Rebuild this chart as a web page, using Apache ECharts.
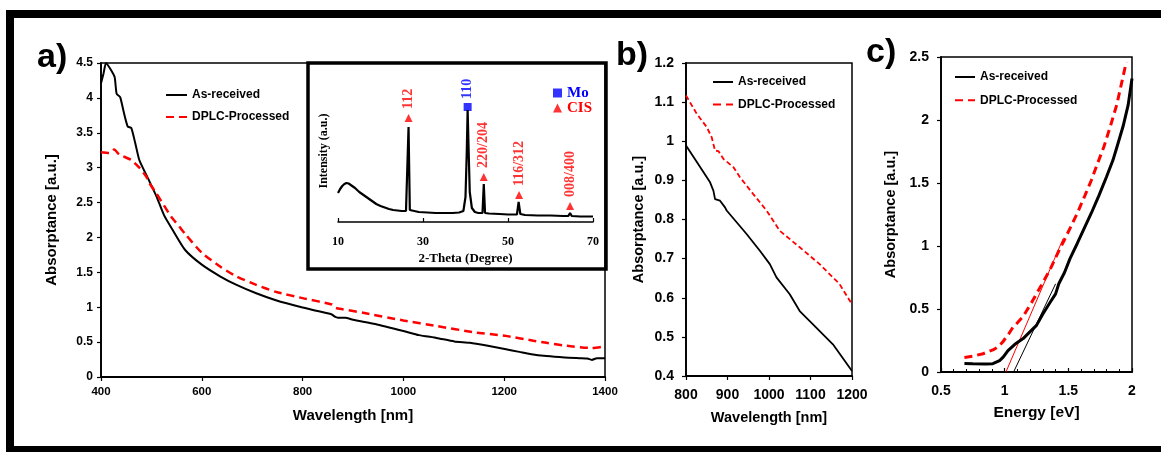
<!DOCTYPE html>
<html>
<head>
<meta charset="utf-8">
<script src="https://cdn.jsdelivr.net/npm/echarts@6/dist/echarts.min.js"></script>
<style>
html,body{margin:0;padding:0;background:#fff;}
#chart{width:1161px;height:452px;}
</style>
</head>
<body>
<div id="chart"></div>
<script>
// ---------- DATA ----------
// Panel a: absorptance vs wavelength [nm]
const aAsReceived = [[400,4.21],[405,4.35],[410,4.50],[418,4.42],[427,4.30],[431,4.06],[438,4.01],[445,3.80],[453,3.59],[460,3.57],[468,3.35],[476,3.11],[493,2.85],[510,2.59],[525,2.32],[542,2.11],[567,1.82],[600,1.61],[637,1.44],[669,1.32],[708,1.20],[747,1.10],[800,0.995],[827,0.95],[857,0.90],[865,0.86],[870,0.85],[885,0.85],[900,0.82],[944,0.76],[1000,0.66],[1031,0.60],[1066,0.56],[1101,0.51],[1132,0.49],[1165,0.45],[1201,0.40],[1230,0.36],[1251,0.33],[1284,0.30],[1320,0.28],[1350,0.27],[1365,0.265],[1374,0.245],[1384,0.27],[1400,0.27]];
const aDPLC = [[400,3.22],[416,3.21],[426,3.26],[436,3.19],[460,3.11],[476,3.00],[490,2.87],[496,2.78],[510,2.63],[539,2.30],[556,2.15],[567,2.05],[600,1.78],[637,1.58],[669,1.44],[708,1.32],[747,1.22],[800,1.13],[858,1.04],[866,0.99],[880,0.97],[920,0.92],[1000,0.81],[1066,0.73],[1141,0.64],[1201,0.59],[1258,0.52],[1284,0.49],[1321,0.45],[1374,0.415],[1400,0.44]];
// Panel b: zoom 800-1200 nm
const bAsReceived = [[800,0.989],[834,0.934],[858,0.895],[866,0.874],[870,0.852],[882,0.848],[894,0.831],[898,0.823],[922,0.793],[946,0.763],[978,0.720],[1002,0.686],[1018,0.652],[1050,0.609],[1074,0.566],[1106,0.532],[1154,0.481],[1200,0.413]];
const bDPLC = [[800,1.117],[826,1.070],[850,1.036],[862,1.010],[870,0.976],[878,0.975],[890,0.955],[914,0.934],[930,0.908],[962,0.865],[994,0.823],[1026,0.771],[1074,0.729],[1122,0.686],[1170,0.635],[1200,0.583]];
// Panel c: absorptance vs energy [eV]
const cAsReceived = [[0.684,0.067],[0.75,0.065],[0.85,0.064],[0.907,0.066],[0.96,0.09],[0.99,0.12],[1.026,0.17],[1.08,0.22],[1.145,0.265],[1.20,0.32],[1.25,0.37],[1.30,0.46],[1.355,0.55],[1.40,0.62],[1.425,0.70],[1.44,0.71],[1.47,0.79],[1.513,0.90],[1.57,1.02],[1.62,1.13],[1.68,1.26],[1.74,1.40],[1.80,1.55],[1.85,1.68],[1.88,1.78],[1.93,1.95],[1.97,2.12],[2.0,2.33]];
const cDPLC = [[0.684,0.115],[0.75,0.125],[0.83,0.145],[0.907,0.175],[0.95,0.20],[0.986,0.24],[1.03,0.30],[1.065,0.355],[1.10,0.39],[1.145,0.44],[1.21,0.55],[1.25,0.62],[1.30,0.71],[1.355,0.81],[1.42,0.95],[1.47,1.05],[1.513,1.14],[1.57,1.26],[1.63,1.40],[1.68,1.52],[1.72,1.63],[1.78,1.79],[1.83,1.95],[1.88,2.12],[1.92,2.30],[1.955,2.46]];
const cTangentDPLC = [[1.01,0],[1.46,1.06]];
const cTangentAsReceived = [[1.07,0],[1.40,0.70]];
// Inset: XRD pattern, 2-theta [deg] vs intensity [a.u.]
const xrdPattern = [[10,29],[10.5,33],[11,36],[11.5,38],[12,39],[12.5,38.5],[13,37],[14,34],[15,30],[16,27],[17,24],[18,21],[19,18],[20,16],[21,14.5],[22,13],[23,12],[24,11.5],[25,11],[26,11],[26.3,12],[26.6,95],[26.9,12],[27.3,10.5],[29,10],[31,9.5],[33,9],[35,9],[37,9],[38.5,9.5],[39.5,11],[40.0,25],[40.3,70],[40.5,112],[40.75,70],[41.0,30],[41.5,14],[42.2,10],[43,9],[44.0,9],[44.3,38],[44.6,9],[45.5,8.5],[48,8],[50,7.5],[52.1,7.5],[52.5,20],[52.9,8],[54,7],[57,6.5],[60,6.5],[63,6],[64.2,6],[64.6,9],[65,6],[67,5.5],[70,5.5]];
const moPeaks = [[40.5,115,'110']];
const cisPeaks = [[26.6,104,'112'],[44.3,45,'220/204'],[52.6,27,'116/312'],[64.6,16,'008/400']];
const xrdTicks = [10,30,50,70];
const seriesNames = ['As-received','DPLC-Processed'];

// ---------- STYLE ----------
const SANS = 'Liberation Sans';
const SERIF = 'Liberation Serif';
const RED = '#ff0000', BLUE = '#0000ff';
const plain = v => String(v);

function tickLabel(size, margin){ return {color:'#000', fontFamily:SANS, fontWeight:'bold', fontSize:size, margin:margin, formatter:plain}; }
function nameStyle(size){ return {color:'#000', fontFamily:SANS, fontWeight:'bold', fontSize:size}; }
const axLine = {show:true, lineStyle:{color:'#000', width:1.8}};
const axTick = {show:true, length:4, lineStyle:{color:'#000', width:1.2}};

function legendFor(left, top, gap, width){
  return {
    orient:'vertical', left:left, top:top, padding:0, itemGap:gap, itemWidth:width, itemHeight:14,
    data:seriesNames, selectedMode:false, itemStyle:{opacity:0},
    textStyle:{color:'#000', fontFamily:SANS, fontWeight:'bold', fontSize:12, lineHeight:14}
  };
}

const chart = echarts.init(document.getElementById('chart'), null, {renderer:'canvas'});
const option = {
  animation:false,
  backgroundColor:'#fff',
  graphic:[
    {type:'rect', shape:{x:6,y:10,width:1155,height:8}, style:{fill:'#000'}},
    {type:'rect', shape:{x:6,y:10,width:8,height:442}, style:{fill:'#000'}},
    {type:'rect', shape:{x:6,y:446,width:1155,height:6}, style:{fill:'#000'}},
    {type:'rect', z:10, shape:{x:308,y:63,width:298,height:206}, style:{fill:'none', stroke:'#000', lineWidth:3.5}},
    {type:'text', style:{text:'a)', x:37, y:58, fill:'#000', font:'bold 34px "Liberation Sans"', verticalAlign:'middle', textVerticalAlign:'middle'}},
    {type:'text', style:{text:'b)', x:616, y:56, fill:'#000', font:'bold 34px "Liberation Sans"', verticalAlign:'middle', textVerticalAlign:'middle'}},
    {type:'text', style:{text:'c)', x:866, y:53, fill:'#000', font:'bold 34px "Liberation Sans"', verticalAlign:'middle', textVerticalAlign:'middle'}}
  ],
  legend:[
    legendFor(165, 88, 8, 21),
    legendFor(712, 75, 8.6, 20),
    legendFor(954, 70, 9.3, 20),
    {
      orient:'vertical', left:553, top:85.5, padding:0, itemGap:0, itemWidth:9, itemHeight:9, selectedMode:false,
      data:[{name:'Mo', icon:'rect', textStyle:{color:BLUE}},{name:'CIS', icon:'triangle', textStyle:{color:RED}}],
      textStyle:{fontFamily:SERIF, fontWeight:'bold', fontSize:15, lineHeight:15}
    }
  ],
  grid:[
    {left:101, top:63, width:504, height:314, show:true, borderColor:'#000', borderWidth:1.5, backgroundColor:'transparent'},
    {left:338, top:80, width:255, height:142},
    {left:686, top:63, width:166, height:313, show:true, borderColor:'#000', borderWidth:1.5},
    {left:941, top:57, width:191, height:315, show:true, borderColor:'#000', borderWidth:1.5}
  ],
  xAxis:[
    {gridIndex:0, type:'value', min:400, max:1400, interval:200, axisLine:axLine, axisTick:axTick,
     axisLabel:tickLabel(11.5,9), splitLine:{show:false},
     name:'Wavelength [nm]', nameLocation:'middle', nameGap:31, nameTextStyle:nameStyle(15)},
    {gridIndex:1, type:'value', min:10, max:70, axisLine:{show:true, lineStyle:{color:'#000', width:1.5}},
     axisTick:{show:true, inside:true, length:4, customValues:xrdTicks, lineStyle:{color:'#000', width:1.2}},
     axisLabel:{customValues:xrdTicks, color:'#000', fontFamily:SERIF, fontWeight:'bold', fontSize:12, margin:14},
     splitLine:{show:false},
     name:'2-Theta (Degree)', nameLocation:'middle', nameGap:30,
     nameTextStyle:{color:'#000', fontFamily:SERIF, fontWeight:'bold', fontSize:13}},
    {gridIndex:2, type:'value', min:800, max:1200, interval:100, axisLine:axLine, axisTick:axTick,
     axisLabel:tickLabel(14,12), splitLine:{show:false},
     name:'Wavelength [nm]', nameLocation:'middle', nameGap:34, nameTextStyle:nameStyle(14.5)},
    {gridIndex:3, type:'value', min:0.5, max:2, interval:0.5, axisLine:axLine,
     axisTick:{show:true, inside:true, length:4, lineStyle:{color:'#000', width:1.2}},
     minorTick:{show:true, splitNumber:5, length:3, lineStyle:{color:'#000', width:1}},
     axisLabel:tickLabel(14,12), splitLine:{show:false},
     name:'Energy [eV]', nameLocation:'middle', nameGap:33, nameTextStyle:nameStyle(15.5)}
  ],
  yAxis:[
    {gridIndex:0, type:'value', min:0, max:4.5, interval:0.5, axisLine:axLine, axisTick:axTick,
     axisLabel:tickLabel(12,8), splitLine:{show:false},
     name:'Absorptance [a.u.]', nameLocation:'middle', nameGap:42, nameTextStyle:nameStyle(15)},
    {gridIndex:1, type:'value', min:0, max:142, axisLine:{show:false}, axisTick:{show:false},
     axisLabel:{show:false}, splitLine:{show:false},
     name:'Intensity (a.u.)', nameLocation:'middle', nameGap:8,
     nameTextStyle:{color:'#000', fontFamily:SERIF, fontWeight:'bold', fontSize:12}},
    {gridIndex:2, type:'value', min:0.4, max:1.2, interval:0.1, axisLine:axLine, axisTick:axTick,
     axisLabel:tickLabel(14,12), splitLine:{show:false},
     name:'Absorptance [a.u.]', nameLocation:'middle', nameGap:40, nameTextStyle:nameStyle(14.5)},
    {gridIndex:3, type:'value', min:0, max:2.5, interval:0.5, axisLine:axLine, axisTick:axTick,
     axisLabel:tickLabel(14,12), splitLine:{show:false},
     name:'Absorptance [a.u.]', nameLocation:'middle', nameGap:43, nameTextStyle:nameStyle(14.5)}
  ],
  series:[
    {name:seriesNames[0], type:'line', xAxisIndex:0, yAxisIndex:0, data:aAsReceived, symbol:'none', smooth:0.2,
     color:'#000', lineStyle:{color:'#000', width:2}},
    {name:seriesNames[1], type:'line', xAxisIndex:0, yAxisIndex:0, data:aDPLC, symbol:'none', smooth:0.2,
     color:RED, lineStyle:{color:RED, width:2.5, type:[8,5]}},
    {name:'XRD', type:'line', xAxisIndex:1, yAxisIndex:1, data:xrdPattern, symbol:'none',
     color:'#000', lineStyle:{color:'#000', width:2.2}},
    {name:'Mo', type:'scatter', xAxisIndex:1, yAxisIndex:1, symbol:'rect', symbolSize:8, color:BLUE,
     data:moPeaks.map(p=>({value:[p[0],p[1]], name:p[2]})),
     label:{show:true, formatter:'{b}', position:'top', distance:4, rotate:90, align:'left', verticalAlign:'middle',
            color:BLUE, fontFamily:SERIF, fontWeight:'bold', fontSize:14}},
    {name:'CIS', type:'scatter', xAxisIndex:1, yAxisIndex:1, symbol:'triangle', symbolSize:8, color:RED,
     data:cisPeaks.map(p=>({value:[p[0],p[1]], name:p[2]})),
     label:{show:true, formatter:'{b}', position:'top', distance:5, rotate:90, align:'left', verticalAlign:'middle',
            color:RED, fontFamily:SERIF, fontWeight:'bold', fontSize:14}},
    {name:seriesNames[0], type:'line', xAxisIndex:2, yAxisIndex:2, data:bAsReceived, symbol:'none',
     color:'#000', lineStyle:{color:'#000', width:1.8}},
    {name:seriesNames[1], type:'line', xAxisIndex:2, yAxisIndex:2, data:bDPLC, symbol:'none',
     color:RED, lineStyle:{color:RED, width:1.8, type:[5,3]}},
    {name:'Tangent DPLC', type:'line', xAxisIndex:3, yAxisIndex:3, data:cTangentDPLC, symbol:'none',
     lineStyle:{color:RED, width:1}},
    {name:'Tangent As-received', type:'line', xAxisIndex:3, yAxisIndex:3, data:cTangentAsReceived, symbol:'none',
     lineStyle:{color:'#000', width:1}},
    {name:seriesNames[0], type:'line', xAxisIndex:3, yAxisIndex:3, data:cAsReceived, symbol:'none',
     color:'#000', lineStyle:{color:'#000', width:3}},
    {name:seriesNames[1], type:'line', xAxisIndex:3, yAxisIndex:3, data:cDPLC, symbol:'none',
     color:RED, lineStyle:{color:RED, width:3, type:[8,5]}}
  ]
};
chart.setOption(option);
</script>
</body>
</html>
